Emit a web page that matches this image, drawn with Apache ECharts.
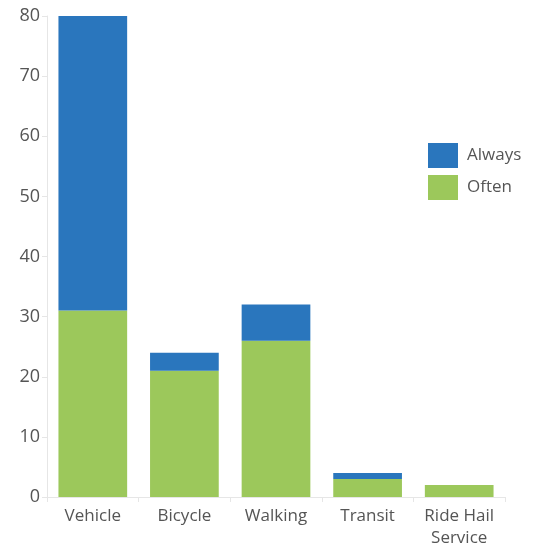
<!DOCTYPE html>
<html><head><meta charset="utf-8">
<script src="https://cdn.jsdelivr.net/npm/echarts@6/dist/echarts.min.js"></script>
<style>html,body{margin:0;padding:0;background:#fff}#c{width:538px;height:549px}</style>
</head><body><div id="c"></div>
<script>
var categories = ['Vehicle', 'Bicycle', 'Walking', 'Transit', 'Ride Hail\nService'];
var often = [31, 21, 26, 3, 2];
var always = [49, 3, 6, 1, 0];
var yTicks = {min: 0, max: 80, interval: 10};

var chart = echarts.init(document.getElementById('c'));
chart.setOption({
  animation: false,
  textStyle: {fontFamily: 'Open Sans'},
  grid: {left: 47, right: 33, top: 16, bottom: 47, containLabel: false},
  legend: {
    orient: 'vertical', left: 423, top: 138,
    itemWidth: 30, itemHeight: 25, itemGap: 7,
    icon: 'rect',
    data: ['Always', 'Often'],
    textStyle: {fontSize: 17, color: '#555', fontFamily: 'Open Sans', padding: [0, 0, 0, 4]}
  },
  xAxis: {
    type: 'category', data: categories,
    axisLine: {lineStyle: {color: '#e6e6e6'}},
    axisTick: {show: true, length: 5, lineStyle: {color: '#e6e6e6'}},
    axisLabel: {interval: 0, fontSize: 17, color: '#555', margin: 8, lineHeight: 22, fontFamily: 'Open Sans'}
  },
  yAxis: {
    type: 'value', min: yTicks.min, max: yTicks.max, interval: yTicks.interval,
    splitLine: {show: false},
    axisLine: {show: true, lineStyle: {color: '#e6e6e6'}},
    axisTick: {show: true, length: 5, lineStyle: {color: '#e6e6e6'}},
    axisLabel: {fontSize: 18, color: '#555', margin: 7, fontFamily: 'Open Sans'}
  },
  series: [
    {name: 'Often', type: 'bar', stack: 's', data: often, barWidth: '75%', itemStyle: {color: '#9cc85b'}},
    {name: 'Always', type: 'bar', stack: 's', data: always, barWidth: '75%', itemStyle: {color: '#2a76bd'}}
  ]
});
</script></body></html>
